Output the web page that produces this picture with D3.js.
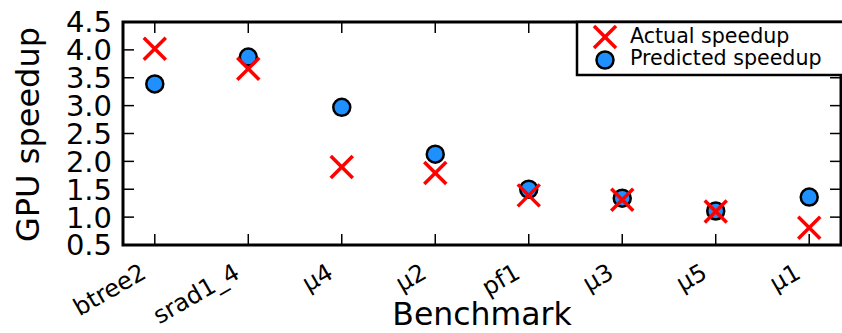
<!DOCTYPE html>
<html>
<head>
<meta charset="utf-8">
<script src="https://cdn.jsdelivr.net/npm/d3@7"></script>
<style>
  body { margin: 0; background: #fff; }
  svg text { font-family: "DejaVu Sans", sans-serif; fill: #000; }
</style>
</head>
<body>
<script>
// benchmarks on the x axis
var benchmarks = ['btree2', 'srad1_4', 'μ4', 'μ2', 'pf1', 'μ3', 'μ5', 'μ1'];
var actual = [4.02, 3.66, 1.90, 1.79, 1.39, 1.31, 1.10, 0.81];
var predicted = [3.39, 3.87, 2.97, 2.13, 1.50, 1.34, 1.11, 1.36];
var yTicks = [0.5, 1.0, 1.5, 2.0, 2.5, 3.0, 3.5, 4.0, 4.5];
var legendLabels = ['Actual speedup', 'Predicted speedup'];

var W = 842, H = 333;
var plotLeft = 123, plotRight = 841, plotTop = 22, plotBottom = 245;
var tickLen = 11;

var svg = d3.select("body").append("svg")
    .attr("width", W)
    .attr("height", H);

var x = d3.scaleLinear().domain([-0.34, benchmarks.length - 1 + 0.34]).range([plotLeft, plotRight]);
var y = d3.scaleLinear().domain([0.5, 4.5]).range([plotBottom, plotTop]);

// inward ticks on all four sides
var g = svg.append("g");
g.selectAll(".xt").data(benchmarks).enter().append("line")
    .attr("x1", function(d, i) { return x(i); })
    .attr("x2", function(d, i) { return x(i); })
    .attr("y1", plotBottom).attr("y2", plotBottom - tickLen)
    .attr("stroke", "#000").attr("stroke-width", 1.5);
g.selectAll(".xt2").data(benchmarks).enter().append("line")
    .attr("x1", function(d, i) { return x(i); })
    .attr("x2", function(d, i) { return x(i); })
    .attr("y1", plotTop).attr("y2", plotTop + tickLen)
    .attr("stroke", "#000").attr("stroke-width", 1.5);
g.selectAll(".yt").data(yTicks).enter().append("line")
    .attr("x1", plotLeft).attr("x2", plotLeft + tickLen)
    .attr("y1", function(d) { return y(d); })
    .attr("y2", function(d) { return y(d); })
    .attr("stroke", "#000").attr("stroke-width", 1.5);
g.selectAll(".yt2").data(yTicks).enter().append("line")
    .attr("x1", plotRight).attr("x2", plotRight - tickLen)
    .attr("y1", function(d) { return y(d); })
    .attr("y2", function(d) { return y(d); })
    .attr("stroke", "#000").attr("stroke-width", 1.5);

// frame
svg.append("rect")
    .attr("x", plotLeft).attr("y", plotTop)
    .attr("width", plotRight - plotLeft).attr("height", plotBottom - plotTop)
    .attr("fill", "none").attr("stroke", "#000").attr("stroke-width", 3);

// y tick labels
svg.selectAll(".ytl").data(yTicks).enter().append("text")
    .attr("x", plotLeft - 11)
    .attr("y", function(d) { return y(d); })
    .attr("dy", "0.36em")
    .attr("text-anchor", "end")
    .style("font-size", "29px")
    .text(function(d) { return d.toFixed(1); });

// x tick labels, rotated
svg.selectAll(".xtl").data(benchmarks).enter().append("text")
    .attr("transform", function(d, i) { return "translate(" + (x(i) - 7) + ",277) rotate(-30)"; })
    .attr("text-anchor", "end")
    .style("font-size", "24px")
    .text(function(d) { return d; });

// axis titles
svg.append("text")
    .attr("x", (plotLeft + plotRight) / 2).attr("y", 325)
    .attr("text-anchor", "middle")
    .style("font-size", "31.5px")
    .text("Benchmark");
svg.append("text")
    .attr("transform", "translate(39," + ((plotTop + plotBottom) / 2 + 1) + ") rotate(-90)")
    .attr("text-anchor", "middle")
    .style("font-size", "32px")
    .text("GPU speedup");

function cross(sel, s) {
  sel.append("line").attr("x1", -s).attr("y1", -s).attr("x2", s).attr("y2", s);
  sel.append("line").attr("x1", -s).attr("y1", s).attr("x2", s).attr("y2", -s);
  sel.selectAll("line").attr("stroke", "#ff0000").attr("stroke-width", 3.5);
}

// predicted (circles) first, actual (crosses) on top
svg.selectAll(".pred").data(predicted).enter().append("circle")
    .attr("cx", function(d, i) { return x(i); })
    .attr("cy", function(d) { return y(d); })
    .attr("r", 8.5)
    .attr("fill", "#1e90ff")
    .attr("stroke", "#000").attr("stroke-width", 2.5);

svg.selectAll(".act").data(actual).enter().append("g")
    .attr("transform", function(d, i) { return "translate(" + x(i) + "," + y(d) + ")"; })
    .each(function() { cross(d3.select(this), 11); });

// legend
var lg = svg.append("g");
lg.append("rect")
    .attr("x", 577).attr("y", 22)
    .attr("width", 280).attr("height", 53)
    .attr("fill", "#fff").attr("stroke", "#000").attr("stroke-width", 2.5);
lg.append("g").attr("transform", "translate(605,37)").call(function(s) { cross(s, 11); });
lg.append("circle").attr("cx", 605).attr("cy", 60).attr("r", 8.5)
    .attr("fill", "#1e90ff").attr("stroke", "#000").attr("stroke-width", 2.5);
lg.selectAll(".lt").data(legendLabels).enter().append("text")
    .attr("x", 630)
    .attr("y", function(d, i) { return 43 + i * 22; })
    .style("font-size", "20.6px")
    .text(function(d) { return d; });
</script>
</body>
</html>
